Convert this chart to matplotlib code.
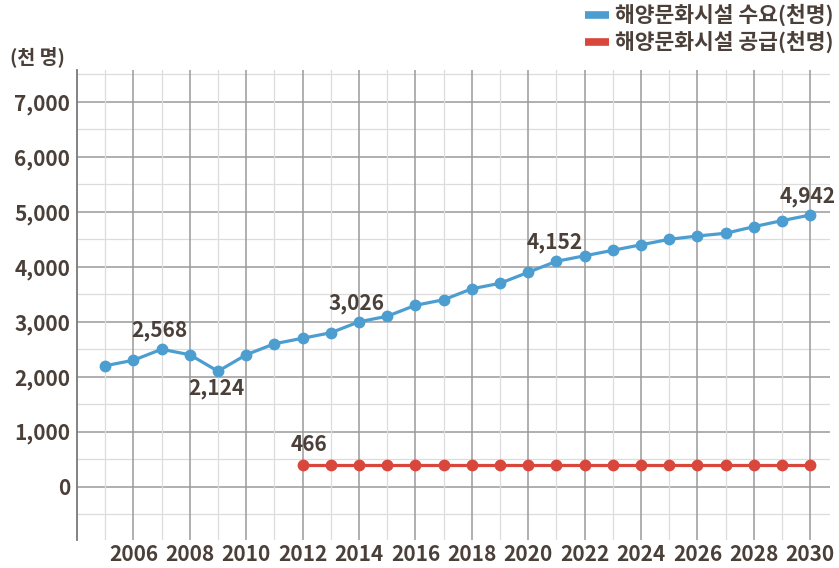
import matplotlib
matplotlib.use("Agg")
import matplotlib.pyplot as plt
from matplotlib.lines import Line2D
from matplotlib.ticker import FixedLocator

years = list(range(2005, 2031))
demand = [2200, 2300, 2500, 2400, 2100, 2400, 2600, 2700, 2800, 3000,
          3100, 3300, 3400, 3600, 3700, 3900, 4100, 4200, 4300, 4400,
          4500, 4560, 4610, 4730, 4840, 4942]
supply_years = list(range(2012, 2031))
supply = [400] * len(supply_years)

demand_labels = {2007: ("2,568", "above"), 2009: ("2,124", "below"),
                 2014: ("3,026", "above"), 2021: ("4,152", "above"),
                 2030: ("4,942", "above")}
supply_labels = {2012: ("466", "above")}

series_names = ["해양문화시설 수요(천명)", "해양문화시설 공급(천명)"]
unit_label = "(천 명)"
yticks = [0, 1000, 2000, 3000, 4000, 5000, 6000, 7000]
xticks = list(range(2006, 2031, 2))

blue = "#4c9dd0"
red = "#d8463c"
txt = "#4b4039"
kfont = ["Noto Sans CJK KR", "DejaVu Sans"]
plt.rcParams["font.family"] = kfont

fig = plt.figure(figsize=(8.39, 5.68), dpi=100)
ax = fig.add_axes([77/839, 28/568, (830-77)/839, (540-70)/568])

ax.set_xlim(2004, 2030.7)
ax.set_ylim(-970, 7580)

# grid
for y in range(-500, 7600, 500):
    major = (y % 1000 == 0)
    ax.axhline(y, color="#9a9a9a" if major else "#dcdcdc",
               lw=1.1 if major else 0.9, zorder=1)
for x in range(2005, 2031):
    major = (x % 2 == 0)
    ax.axvline(x, color="#9a9a9a" if major else "#dcdcdc",
               lw=1.1 if major else 0.9, zorder=1)

ax.plot(years, demand, color=blue, lw=2.3, marker="o", ms=8.5,
        markeredgewidth=0, zorder=3)
ax.plot(supply_years, supply, color=red, lw=2.3, marker="o", ms=8.5,
        markeredgewidth=0, zorder=3)

for yr, (lab, pos) in demand_labels.items():
    v = demand[years.index(yr)]
    off = 13.5 if pos == "above" else -12.5
    ax.annotate(lab, (yr, v), xytext=(-1.5, off), textcoords="offset points",
                ha="center", va="center", fontsize=15, fontweight="bold",
                color=txt, zorder=4)
for yr, (lab, pos) in supply_labels.items():
    v = supply[supply_years.index(yr)]
    ax.annotate(lab, (yr, v), xytext=(4.5, 14.5), textcoords="offset points",
                ha="center", va="center", fontsize=15, fontweight="bold",
                color=txt, zorder=4)

for s in ["top", "right", "bottom"]:
    ax.spines[s].set_visible(False)
ax.spines["left"].set_color("#7a7a7a")
ax.spines["left"].set_linewidth(1.3)

ax.yaxis.set_major_locator(FixedLocator(yticks))
ax.set_yticklabels([f"{v:,}" for v in yticks])
ax.xaxis.set_major_locator(FixedLocator(xticks))
ax.set_xticklabels([str(v) for v in xticks])
ax.tick_params(axis="both", length=0, labelsize=15, colors=txt)
ax.tick_params(axis="y", pad=5)
ax.tick_params(axis="x", pad=3)
for lab in ax.get_xticklabels() + ax.get_yticklabels():
    lab.set_fontweight("bold")

fig.text(10/839, 1 - 57/568, unit_label, fontsize=14,
         fontweight="bold", color=txt, ha="left", va="center")

handles = [Line2D([], [], color=blue, lw=5.5, solid_capstyle="butt"),
           Line2D([], [], color=red, lw=5.5, solid_capstyle="butt")]
leg = fig.legend(handles, series_names, loc="upper right",
                 bbox_to_anchor=(834/839, 1 - 4/568), frameon=False,
                 prop={"size": 15.5, "weight": "bold"},
                 handlelength=1.15, handletextpad=0.28, labelspacing=0.22,
                 borderaxespad=0, borderpad=0)
for t in leg.get_texts():
    t.set_color(txt)

fig.savefig("out.png", dpi=100)
